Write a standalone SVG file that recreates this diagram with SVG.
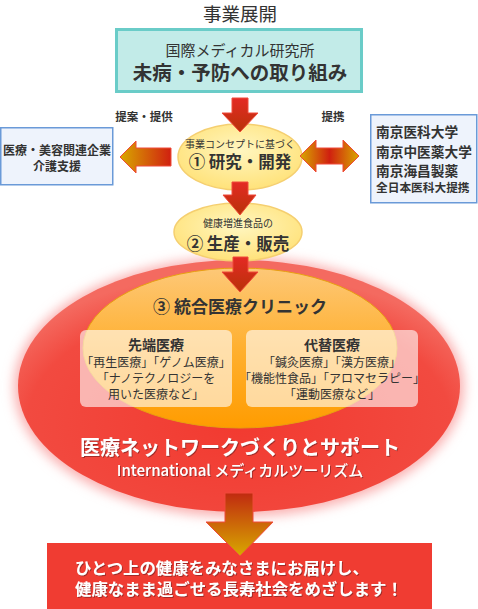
<svg xmlns="http://www.w3.org/2000/svg" width="478" height="609" viewBox="0 0 478 609">
<style>
text{font-family:"Noto Sans CJK JP","Noto Sans",sans-serif;fill:#333}
.b{font-weight:bold}
.w{fill:#fff}
.c{text-anchor:middle}
.arr{stroke:#f04a3a;stroke-width:1}
</style>
<defs>
<linearGradient id="gDown" x1="0" y1="0" x2="0" y2="1">
<stop offset="0" stop-color="#e42a24"/><stop offset="1" stop-color="#b83208"/>
</linearGradient>
<linearGradient id="gLeft" x1="0" y1="0" x2="1" y2="0">
<stop offset="0" stop-color="#d8a800"/><stop offset="1" stop-color="#d02010"/>
</linearGradient>
<linearGradient id="gBoth" x1="0" y1="0" x2="1" y2="0">
<stop offset="0" stop-color="#d8a800"/><stop offset="0.5" stop-color="#d02010"/><stop offset="1" stop-color="#d8a800"/>
</linearGradient>
<linearGradient id="gBot" x1="0" y1="0" x2="0" y2="1">
<stop offset="0" stop-color="#c02a10"/><stop offset="1" stop-color="#d8a800"/>
</linearGradient>
<radialGradient id="gYel" cx="0.5" cy="0.4" r="0.6">
<stop offset="0" stop-color="#fff6c0"/><stop offset="1" stop-color="#ffe27a"/>
</radialGradient>
<radialGradient id="gRed" cx="0.5" cy="0.65" r="0.6">
<stop offset="0" stop-color="#f23a30"/><stop offset="0.8" stop-color="#f24a40"/><stop offset="1" stop-color="#f46a60"/>
</radialGradient>
<linearGradient id="gOr" x1="0" y1="0" x2="0" y2="1">
<stop offset="0" stop-color="#fdc878"/><stop offset="0.5" stop-color="#ffb030"/><stop offset="1" stop-color="#ff9c00"/>
</linearGradient>
<filter id="glow" x="-10%" y="-10%" width="120%" height="120%">
<feGaussianBlur stdDeviation="6"/>
</filter>
<filter id="ts" x="-5%" y="-20%" width="110%" height="140%">
<feDropShadow dx="1" dy="1" stdDeviation="0.6" flood-color="#802020" flood-opacity="0.7"/>
</filter>
</defs>

<text x="240" y="21" class="c" font-size="18.5">事業展開</text>

<g id="clinic">
<ellipse cx="239" cy="387" rx="225" ry="130" fill="#fab0b0" filter="url(#glow)"/>
<ellipse cx="239" cy="386" rx="221" ry="126" fill="url(#gRed)"/>
<ellipse cx="240" cy="348" rx="157" ry="80" fill="url(#gOr)" stroke="#e8a010" stroke-width="1"/>
<text x="240" y="313" class="c b" font-size="17">③ 統合医療クリニック</text>
<text x="240" y="455" class="c b w" font-size="20" filter="url(#ts)">医療ネットワークづくりとサポート</text>
<text x="240" y="476" class="c w" font-size="15" font-weight="500" filter="url(#ts)">International メディカルツーリズム</text>
</g>

<g id="advanced">
<rect x="80" y="330" width="152" height="77" rx="6" fill="#fff" fill-opacity="0.6"/>
<text x="156" y="350" class="c b" font-size="14">先端医療</text>
<text x="156" y="367" class="c" font-size="12">「再生医療」「ゲノム医療」</text>
<text x="156" y="383" class="c" font-size="12">「ナノテクノロジーを</text>
<text x="156" y="399" class="c" font-size="12">用いた医療など」</text>
</g>

<g id="alternative">
<rect x="246" y="330" width="172" height="77" rx="6" fill="#fff" fill-opacity="0.6"/>
<text x="332" y="350" class="c b" font-size="14">代替医療</text>
<text x="332" y="367" class="c" font-size="12">「鍼灸医療」「漢方医療」</text>
<text x="332" y="383" class="c" font-size="12">「機能性食品」「アロマセラピー」</text>
<text x="332" y="399" class="c" font-size="12">「運動医療など」</text>
</g>

<g id="institute">
<rect x="116.5" y="29.5" width="245" height="62" fill="#c2ebe8" stroke="#6accc8" stroke-width="3"/>
<text x="240" y="56" class="c" font-size="15">国際メディカル研究所</text>
<text x="240" y="80" class="c b" font-size="19.5">未病・予防への取り組み</text>
</g>

<g id="companies">
<rect x="0.75" y="127.75" width="112" height="57" fill="#eef3fc" stroke="#6a9ad8" stroke-width="1.5"/>
<text x="57" y="155" class="c b" font-size="12">医療・美容関連企業</text>
<text x="57" y="171" class="c b" font-size="12">介護支援</text>
</g>

<g id="universities">
<rect x="370.75" y="114.75" width="106" height="88" fill="#eef3fc" stroke="#6a9ad8" stroke-width="1.5"/>
<text x="376" y="137" class="b" font-size="13.7">南京医科大学</text>
<text x="376" y="157" class="b" font-size="13.7">南京中医薬大学</text>
<text x="376" y="176" class="b" font-size="13.7">南京海昌製薬</text>
<text x="376" y="192" class="b" font-size="11.7">全日本医科大提携</text>
</g>

<g id="research">
<ellipse cx="240" cy="157" rx="62" ry="33" fill="url(#gYel)" stroke="#f5cf70" stroke-width="1.5"/>
<text x="240" y="148" class="c" font-size="10">事業コンセプトに基づく</text>
<text x="240" y="168" class="c b" font-size="16.5">① 研究・開発</text>
</g>

<g id="production">
<ellipse cx="238" cy="232" rx="64" ry="29" fill="url(#gYel)" stroke="#f5cf70" stroke-width="1.5"/>
<text x="238" y="227" class="c" font-size="10">健康増進食品の</text>
<text x="238" y="250" class="c b" font-size="16.5">② 生産・販売</text>
</g>

<g id="goal">
<rect x="47" y="543" width="385" height="66" fill="#f03c32"/>
<text x="75" y="574" class="b w" font-size="16.4" filter="url(#ts)">ひとつ上の健康をみなさまにお届けし、</text>
<text x="75" y="595" class="b w" font-size="16.4" filter="url(#ts)">健康なまま過ごせる長寿社会をめざします！</text>
</g>

<g id="connectors">
<path class="arr" d="M232,98 L248,98 L248,113 L258,113 L240,132 L222,113 L232,113 Z" fill="url(#gDown)"/>
<path class="arr" d="M232,182 L248,182 L248,195 L256,195 L240,215 L223,195 L232,195 Z" fill="url(#gDown)"/>
<path class="arr" d="M233,257 L248,257 L248,272 L258,272 L240,292 L222,272 L233,272 Z" fill="url(#gDown)"/>
<path class="arr" d="M120,157 L136,141 L136,148 L171,148 L171,166 L136,166 L136,173 Z" fill="url(#gLeft)"/>
<path class="arr" d="M300,156 L316,140 L316,148 L343,148 L343,140 L359,156 L343,172 L343,164 L316,164 L316,172 Z" fill="url(#gBoth)"/>
<path class="arr" d="M225,493 L253,493 L253,522 L273,522 L240,556 L206,522 L225,522 Z" fill="url(#gBot)"/>
<text x="144" y="121" class="c b" font-size="11.5">提案・提供</text>
<text x="333" y="121" class="c b" font-size="11.5">提携</text>
</g>
</svg>
